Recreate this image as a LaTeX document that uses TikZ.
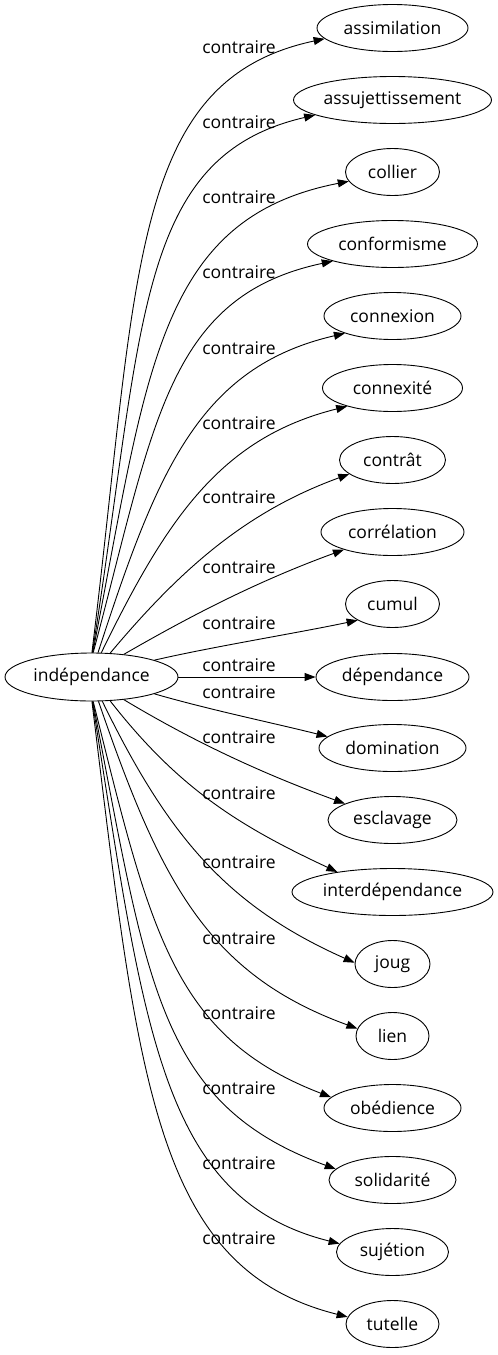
\documentclass[tikz,border=0pt]{standalone}
\usepackage{fontspec}
\setmainfont{Open Sans}
\usetikzlibrary{arrows.meta,shapes.geometric}

\begin{document}
\begin{tikzpicture}[x=1pt,y=1pt,
        every node/.style={font=\fontsize{17.5}{20}\selectfont},
        mot/.style={draw,ellipse,inner sep=0pt,minimum height=47pt,line width=0.9pt},
        etiq/.style={inner sep=0pt},
        rel/.style={-{Triangle[length=11pt,width=8pt]},line width=0.9pt}]
        \useasboundingbox (0,0) rectangle (498,-1355);
        \node[mot,minimum width=173pt,minimum height=48pt] (ind) at (91.5,-677) {indépendance};
        \node[mot,minimum width=151pt] (assim) at (392.5,-28) {assimilation};
        \node[mot,minimum width=198pt] (assuj) at (392.5,-100) {assujettissement};
        \node[mot,minimum width=94pt] (collier) at (392.5,-172) {collier};
        \node[mot,minimum width=170pt] (conform) at (392.5,-244) {conformisme};
        \node[mot,minimum width=137pt] (connexion) at (392.5,-316) {connexion};
        \node[mot,minimum width=140pt] (connexite) at (392.5,-388) {connexité};
        \node[mot,minimum width=106pt] (contrat) at (392.5,-460) {contrât};
        \node[mot,minimum width=143pt] (correl) at (392.5,-532) {corrélation};
        \node[mot,minimum width=94pt] (cumul) at (392.5,-604) {cumul};
        \node[mot,minimum width=153pt] (dep) at (392.5,-677) {dépendance};
        \node[mot,minimum width=147pt] (domin) at (392.5,-748) {domination};
        \node[mot,minimum width=129pt] (esclav) at (392.5,-820) {esclavage};
        \node[mot,minimum width=201pt] (interdep) at (392.5,-892) {interdépendance};
        \node[mot,minimum width=75pt] (joug) at (392.5,-964) {joug};
        \node[mot,minimum width=73pt] (lien) at (392.5,-1036) {lien};
        \node[mot,minimum width=137pt] (obed) at (392.5,-1108) {obédience};
        \node[mot,minimum width=127pt] (solid) at (392.5,-1180) {solidarité};
        \node[mot,minimum width=112pt] (sujet) at (392.5,-1252) {sujétion};
        \node[mot,minimum width=93pt] (tutelle) at (392.5,-1324) {tutelle};
        % labels on the edges
        \node[etiq] (k1) at (239,-47) {contraire};
        \node[etiq] (k2) at (239,-122) {contraire};
        \node[etiq] (k3) at (239,-197) {contraire};
        \node[etiq] (k4) at (239,-272) {contraire};
        \node[etiq] (k5) at (239,-348) {contraire};
        \node[etiq] (k6) at (239,-423) {contraire};
        \node[etiq] (k7) at (239,-497) {contraire};
        \node[etiq] (k8) at (239,-567) {contraire};
        \node[etiq] (k9) at (239,-623) {contraire};
        \node[etiq] (k10) at (239,-665) {contraire};
        \node[etiq] (k11) at (239,-692) {contraire};
        \node[etiq] (k12) at (239,-737) {contraire};
        \node[etiq] (k13) at (239,-793) {contraire};
        \node[etiq] (k14) at (239,-862) {contraire};
        \node[etiq] (k15) at (239,-938) {contraire};
        \node[etiq] (k16) at (239,-1013) {contraire};
        \node[etiq] (k17) at (239,-1088) {contraire};
        \node[etiq] (k18) at (239,-1163) {contraire};
        \node[etiq] (k19) at (239,-1238) {contraire};
        % edges
        \draw[rel] (ind.89) .. controls +(83:380) and +(192:200) .. (assim.189);
        \draw[rel] (ind.88) .. controls +(81:330) and +(193:185) .. (assuj.191);
        \draw[rel] (ind.87) .. controls +(79:285) and +(191:195) .. (collier.192);
        \draw[rel] (ind.86) .. controls +(75:235) and +(192:170) .. (conform.196);
        \draw[rel] (ind.75) .. controls +(72:190) and +(193:150) .. (connexion.200);
        \draw[rel] (ind.68) .. controls +(64:150) and +(194:130) .. (connexite.202);
        \draw[rel] (ind.52) .. controls +(50:110) and +(200:110) .. (contrat.198);
        \draw[rel] (ind.35) .. controls +(30:80) and +(200:90) .. (correl.200);
        \draw[rel] (ind.15) .. controls +(13:60) and +(192:60) .. (cumul.205);
        \draw[rel] (ind) -- (dep);
        \draw[rel] (ind.-15) .. controls +(-16:60) and +(166:60) .. (domin.170);
        \draw[rel] (ind.-35) .. controls +(-31:80) and +(160:90) .. (esclav.161);
        \draw[rel] (ind.-52) .. controls +(-52:110) and +(155:110) .. (interdep.160);
        \draw[rel] (ind.-66) .. controls +(-64:150) and +(156:140) .. (joug.178);
        \draw[rel] (ind.-74) .. controls +(-71:190) and +(160:160) .. (lien.168);
        \draw[rel] (ind.-86) .. controls +(-76:235) and +(159:170) .. (obed.170);
        \draw[rel] (ind.-87) .. controls +(-79:285) and +(160:190) .. (solid.169);
        \draw[rel] (ind.-88) .. controls +(-81:330) and +(166:185) .. (sujet.171);
        \draw[rel] (ind.-89) .. controls +(-83:380) and +(166:200) .. (tutelle.171);
\end{tikzpicture}
\end{document}
